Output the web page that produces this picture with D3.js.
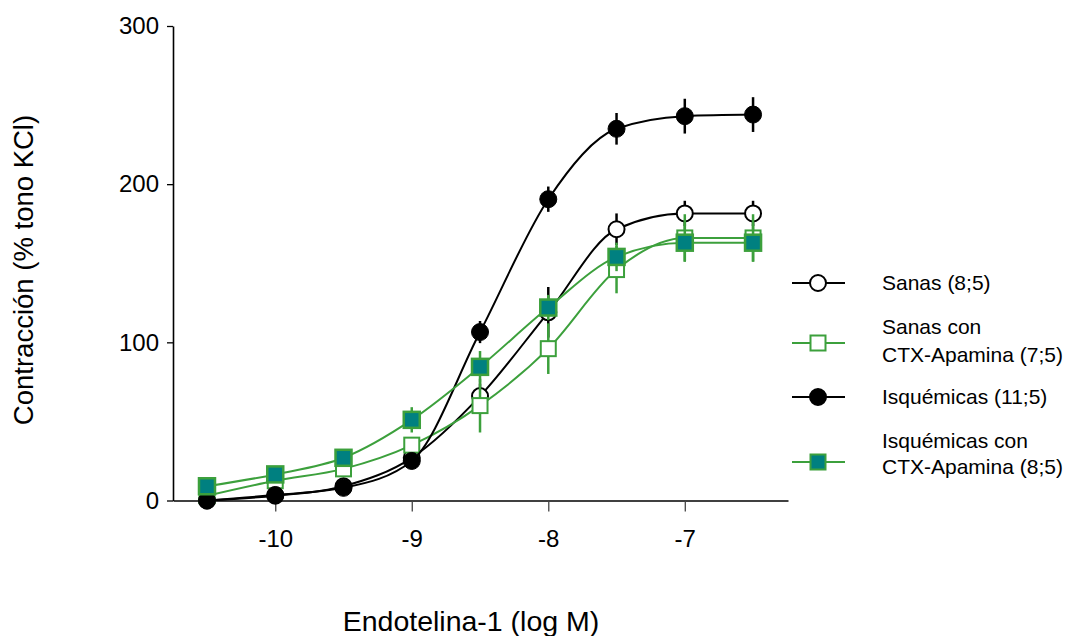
<!DOCTYPE html>
<html><head><meta charset="utf-8">
<script src="https://cdn.jsdelivr.net/npm/d3@7"></script>
<style>
body{margin:0;background:#fff;}
svg text{font-family:"Liberation Sans",Arial,sans-serif;fill:#000;}
</style>
</head><body>
<svg id="chart" width="1073" height="636"></svg>
<script>
// ---- data ----
const logDose = [-10.5, -10, -9.5, -9, -8.5, -8, -7.5, -7, -6.5];
const sanas      = [0, 3, 9, 27, 66, 119, 171.5, 181.5, 181.5];
const sanasErr   = [0, 1, 1, 3, 8, 16, 10, 8, 8];
const sanasCTX    = [3, 12.5, 20, 35, 60, 96, 146, 166, 166];
const sanasCTXErr = [1, 2, 3, 5, 17, 16, 15, 15, 15];
const isq        = [0, 3.5, 8, 25, 106.5, 190.5, 235, 243, 244];
const isqErr     = [0, 1, 2, 3, 7, 8, 10, 11, 11];
const isqCTX      = [9, 16.5, 27, 51, 84.5, 122, 154, 163, 163];
const isqCTXErr   = [1, 2, 3, 8, 10, 8, 9, 12, 12];
const xTicks = [-10, -9, -8, -7];
const yTicks = [0, 100, 200, 300];
const seriesNames = [["Sanas (8;5)"], ["Sanas con", "CTX-Apamina (7;5)"], ["Isquémicas (11;5)"], ["Isquémicas con", "CTX-Apamina (8;5)"]];
const xTitle = "Endotelina-1 (log M)";
const yTitle = "Contracción (% tono KCl)";

const green = "#3ca03c", teal = "#008080";
const series = [
  {name: seriesNames[0], vals: sanas, err: sanasErr, line: "#000", shape: "circle", fill: "#fff", stroke: "#000"},
  {name: seriesNames[1], vals: sanasCTX, err: sanasCTXErr, line: green, shape: "square", fill: "#fff", stroke: green},
  {name: seriesNames[2], vals: isq, err: isqErr, line: "#000", shape: "circle", fill: "#000", stroke: "#000"},
  {name: seriesNames[3], vals: isqCTX, err: isqCTXErr, line: green, shape: "square", fill: teal, stroke: green}
];

const svg = d3.select("#chart");
const x = d3.scaleLinear().domain([-10.749, -6.244]).range([173, 788]);
const y = d3.scaleLinear().domain([0, 300]).range([500.5, 26]);

// axes
const gx = svg.append("g").attr("transform", `translate(0,${y(0)})`)
  .call(d3.axisBottom(x).tickValues(xTicks).tickSize(11).tickSizeOuter(0).tickPadding(18).tickFormat(d => String(d)));
gx.select(".domain").attr("stroke", "#000").attr("stroke-width", 1.6);
gx.selectAll(".tick line").attr("stroke", "#444").attr("stroke-width", 1.3);
gx.selectAll(".tick text").attr("font-size", 24).attr("font-family", "Liberation Sans, Arial, sans-serif");

const gy = svg.append("g").attr("transform", `translate(${x.range()[0]},0)`)
  .call(d3.axisLeft(y).tickValues(yTicks).tickSize(6).tickSizeOuter(0).tickPadding(8));
gy.select(".domain").attr("stroke", "#000").attr("stroke-width", 1.6);
gy.selectAll(".tick line").attr("stroke", "#000").attr("stroke-width", 1.3);
gy.selectAll(".tick text").attr("font-size", 24).attr("font-family", "Liberation Sans, Arial, sans-serif");

// titles
svg.append("text").attr("x", 471).attr("y", 631).attr("text-anchor", "middle")
  .attr("font-size", 28.5).text(xTitle);
svg.append("text").attr("transform", "translate(33,270) rotate(-90)").attr("text-anchor", "middle")
  .attr("font-size", 27.5).text(yTitle);

// lines
const lineGen = d3.line().x(d => x(d[0])).y(d => y(d[1])).curve(d3.curveMonotoneX);
const plot = svg.append("g");

function drawMarker(g, s, cx, cy) {
  if (s.shape === "circle") {
    const filled = s.fill === "#000";
    g.append("circle").attr("cx", cx).attr("cy", cy).attr("r", filled ? 8.5 : 8)
      .attr("fill", s.fill).attr("stroke", s.stroke).attr("stroke-width", filled ? 1 : 2);
  } else {
    const h = s.fill === "#fff" ? 7.5 : 8;
    g.append("rect").attr("x", cx - h).attr("y", cy - h).attr("width", 2 * h).attr("height", 2 * h)
      .attr("fill", s.fill).attr("stroke", s.stroke).attr("stroke-width", s.fill === "#fff" ? 2 : 2.5);
  }
}

series.forEach(s => {
  const g = plot.append("g");
  const pts = logDose.map((d, i) => [d, s.vals[i]]);
  g.append("path").attr("d", lineGen(pts)).attr("fill", "none")
    .attr("stroke", s.line).attr("stroke-width", 2);
  logDose.forEach((d, i) => {
    if (s.err[i] > 0) {
      g.append("line").attr("x1", x(d)).attr("x2", x(d))
        .attr("y1", y(s.vals[i] - s.err[i])).attr("y2", y(s.vals[i] + s.err[i]))
        .attr("stroke", s.line).attr("stroke-width", 2.5);
    }
  });
  logDose.forEach((d, i) => drawMarker(g, s, x(d), y(s.vals[i])));
});

// legend
const legY = [283, 343, 397, 462];
const legTextY = [[283], [327, 355], [397], [441, 467]];
series.forEach((s, k) => {
  const g = svg.append("g");
  g.append("line").attr("x1", 792).attr("x2", 845).attr("y1", legY[k]).attr("y2", legY[k])
    .attr("stroke", s.line).attr("stroke-width", 2);
  if (s.shape === "circle") {
    g.append("circle").attr("cx", 818).attr("cy", legY[k]).attr("r", 8)
      .attr("fill", s.fill).attr("stroke", s.stroke).attr("stroke-width", 2);
  } else {
    g.append("rect").attr("x", 818 - 7.5).attr("y", legY[k] - 7.5).attr("width", 15).attr("height", 15)
      .attr("fill", s.fill).attr("stroke", s.stroke).attr("stroke-width", 2);
  }
  s.name.forEach((t, j) => {
    g.append("text").attr("x", 882).attr("y", legTextY[k][j]).attr("dy", "0.35em")
      .attr("font-size", 21).text(t);
  });
});
</script>
</body></html>
